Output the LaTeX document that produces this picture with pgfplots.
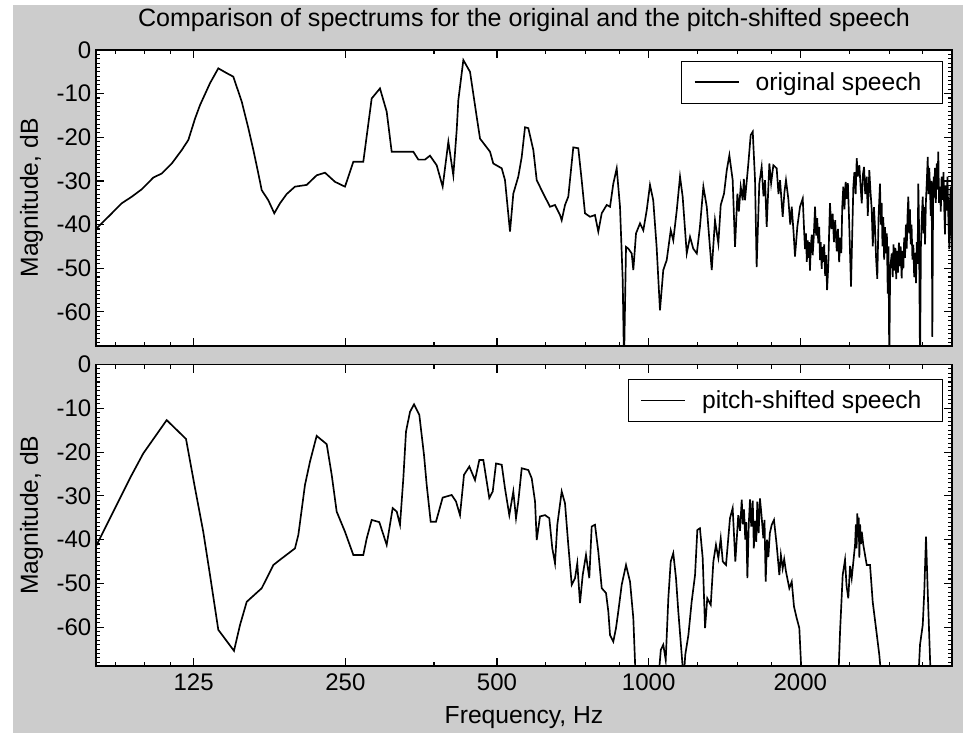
\documentclass[border=0pt]{standalone}
\usepackage{fontspec}
\setmainfont{Liberation Sans}
\usepackage{pgfplots}
\pgfplotsset{compat=1.18}
\definecolor{figgray}{HTML}{CCCCCC}
\newcommand\tickfont{\fontsize{18}{21}\selectfont}
\newcommand\labfont{\fontsize{18.5}{22}\selectfont}
\newcommand\titfont{\fontsize{18.8}{22}\selectfont}
\begin{document}
\begin{tikzpicture}
\fill[white] (0,0) rectangle (722.25pt,-549.75pt);
\fill[figgray] (9.75pt,-3.75pt) rectangle (722.25pt,-549.75pt);

\begin{axis}[
  xmode=log, xmin=80, xmax=4000,
  scale only axis, axis on top,
  axis background/.style={fill=white},
  axis line style={line width=1.2pt},
  every tick/.style={black, line width=0.8pt},
  major tick length=6pt, minor tick length=3pt,
  xtick={125,250,500,1000,2000},
  xticklabels={},
  minor xtick={87.5,100,112.5,375,625,750,875,1250,1500,1750,2500,3000,3500},
  ytick={-60,-50,-40,-30,-20,-10,0},
  yticklabels={-60,-50,-40,-30,-20,-10,0},
  minor ytick={-68,-67,...,-1},
  tick label style={font=\tickfont},
  ylabel={Magnitude, dB},
  ylabel style={font=\labfont, at={(axis description cs:-0.0678,0.5)}, anchor=base},
  legend image code/.code={\draw[#1] (0pt,0pt) -- (33pt,0pt);},
  legend cell align=left,
  at={(72pt,-37.5pt)}, anchor=north west,
  width=642pt, height=222pt,
  ymin=-67.8, ymax=0,
  title={Comparison of spectrums for the original and the pitch-shifted speech},
  title style={font=\titfont, at={(axis description cs:0.5,1.0507)}, anchor=base, yshift=0pt},
  legend style={at={(0.9895,0.9639)}, anchor=north east, draw=black, line width=0.8pt, fill=white,
    font=\labfont, inner xsep=9pt, inner ysep=8.25pt, nodes={inner sep=0pt},
    /tikz/every odd column/.append style={column sep=12pt}},
]
\addplot[black, line width=1.25pt] coordinates {
(80,-41.0) (85.3,-37.8) (90.0,-35.1) (94.2,-33.6) (98.6,-31.9) (104.0,-29.2) (108.0,-28.3)
(113.1,-26.0) (118.4,-22.9) (122.0,-20.6) (125.8,-15.7) (128.7,-12.6) (134.7,-7.6) (139.9,-4.2)
(145.4,-5.3) (149.8,-6.1) (155.7,-11.8) (160.5,-17.9) (164.2,-22.9) (168.0,-28.3) (170.6,-32.1)
(175.8,-34.4) (180.7,-37.4) (185.5,-35.1) (191.2,-33.0) (198.6,-31.3) (209.5,-30.9) (219.3,-28.7)
(227.8,-28.1) (238.5,-30.2) (249.6,-31.3) (259.3,-25.6) (271.4,-25.6) (282.0,-11.1) (292.9,-8.8)
(302.0,-14.1) (309.0,-23.3) (341.1,-23.3) (349.0,-25.1) (359.8,-25.1) (368.1,-24.2) (379.6,-26.4)
(390.1,-31.3) (400.3,-21.0) (409.5,-28.7) (415.9,-18.3) (419.0,-11.5) (428.7,-2.3) (442.0,-5.0)
(455.7,-15.3) (462.7,-20.3) (484.3,-23.3) (491.6,-26.0) (510.9,-27.1) (518.6,-29.8) (530.6,-41.6)
(538.7,-32.9) (551.1,-29.0) (559.8,-24.5) (568.3,-17.7) (576.9,-17.9) (590.3,-22.9) (599.5,-29.8)
(617.8,-32.9) (637.1,-35.9) (651.8,-35.5) (666.9,-37.8) (672.0,-39.0) (682.3,-35.5) (692.6,-33.6)
(708.6,-22.3) (725.0,-22.5) (736.4,-29.8) (747.6,-37.4) (764.9,-38.2) (782.5,-37.8) (794.4,-41.6)
(806.9,-37.4) (825.5,-35.5) (838.1,-35.9) (850.8,-30.6) (864.1,-27.1) (877.2,-35.9) (888.1,-52.7)
(893.4,-72) (901.6,-45.1) (911.2,-45.5) (925.4,-46.6) (932.2,-50.4) (943.8,-42.0) (961.2,-39.7)
(975.8,-41.3) (991.1,-36.7) (1006,-30.9) (1021,-34.4) (1037,-45.1) (1053,-59.6) (1069,-50.4)
(1086,-48.1) (1106,-41.3) (1119,-43.6) (1137,-36.7) (1154,-29.0) (1168,-33.6) (1190,-46.6)
(1208,-42.8) (1226,-45.5) (1246,-46.6) (1264,-40.5) (1284,-31.3) (1304,-35.9) (1334,-50.4)
(1354,-39.0) (1375,-44.3) (1390,-35.5) (1411,-32.9) (1429,-27.5) (1446,-24.1) (1468,-29.8)
(1484,-45.1) (1500,-32.9) (1510,-37.0) (1523,-31.3) (1537,-34.4) (1545,-29.5) (1553,-34.4) (1577,-26.0) (1594,-19.5)
(1609,-18.7) (1626,-29.8) (1638,-49.7) (1658,-30.6) (1676,-26.8) (1690,-33.5) (1702,-29.8) (1715,-40.5)
(1736,-26.0) (1750,-30.5) (1768,-26.4) (1795,-27.1) (1810,-33.0) (1823,-29.8) (1845,-38.2) (1860,-32.5) (1873,-29.8) (1893,-34.0)
(1910,-40.0) (1923,-35.9) (1940,-42.0) (1952,-47.3) (1973,-40.5) (1997,-35.9) (2022,-34.0)
(2035,-41.5) (2043,-45.6) (2052,-42.0) (2060,-48.5) (2068,-43.6) (2074,-47.6) (2082,-44.0)
(2090,-50.5) (2098,-45.0) (2107,-42.3) (2116,-47.0) (2125,-43.5) (2139,-35.9) (2150,-42.5)
(2160,-38.5) (2171,-44.3) (2180,-40.5) (2188,-48.1) (2195,-44.0) (2205,-50.1) (2213,-45.1)
(2221,-48.5) (2230,-44.5) (2240,-51.7) (2249,-47.0) (2260,-55.0) (2273,-49.0) (2281,-42.0)
(2290,-35.1) (2305,-41.0) (2318,-37.5) (2332,-44.0) (2345,-39.0) (2362,-46.1) (2375,-41.0)
(2388,-48.6) (2400,-43.0) (2412,-46.5) (2422,-36.0) (2434,-31.3) (2447,-36.5) (2460,-30.2)
(2472,-34.1) (2485,-30.5) (2498,-38.2) (2521,-54.2) (2548,-31.3) (2560,-28.0) (2575,-33.0)
(2588,-24.8) (2600,-29.0) (2619,-26.4) (2633,-31.0) (2648,-35.1) (2662,-28.5) (2676,-26.8)
(2690,-33.0) (2709,-29.0) (2722,-38.0) (2741,-27.5) (2756,-32.5) (2771,-36.4) (2785,-45.0)
(2800,-36.0) (2813,-40.5) (2828,-48.0) (2843,-52.4) (2860,-38.0) (2878,-30.6) (2890,-40.0)
(2900,-35.0) (2911,-45.0) (2922,-38.3) (2933,-48.0) (2945,-40.6) (2958,-46.6) (2970,-42.0)
(2982,-55.8) (2992,-45.0) (3003,-72) (3015,-50.0) (3037,-46.6) (3050,-52.0) (3062,-44.5)
(3075,-50.5) (3088,-45.3) (3100,-52.5) (3112,-46.0) (3125,-51.0) (3138,-44.1) (3150,-49.5)
(3163,-45.0) (3178,-52.3) (3190,-46.0) (3203,-50.0) (3215,-43.0) (3227,-47.6) (3240,-40.0)
(3252,-45.5) (3264,-38.0) (3276,-33.6) (3288,-42.0) (3300,-36.5) (3312,-44.5) (3325,-40.0)
(3338,-48.0) (3352,-44.6) (3365,-52.0) (3378,-46.5) (3393,-53.4) (3405,-44.0) (3417,-49.0)
(3429,-30.6) (3440,-40.0) (3456,-72) (3470,-45.0) (3485,-38.0) (3499,-33.6) (3512,-42.0)
(3524,-36.0) (3536,-44.5) (3550,-35.0) (3565,-30.0) (3580,-24.5) (3592,-33.0) (3605,-27.0)
(3617,-31.3) (3630,-38.0) (3645,-30.0) (3656,-65.7) (3668,-35.0) (3680,-29.0) (3689,-33.8)
(3700,-27.0) (3715,-35.0) (3730,-26.0) (3743,-32.0) (3757,-23.3) (3770,-35.0) (3787,-31.3)
(3800,-37.0) (3815,-29.0) (3834,-34.3) (3848,-28.0) (3860,-36.0) (3874,-42.2) (3888,-31.0)
(3904,-36.8) (3918,-29.0) (3935,-39.0) (3951,-45.6) (3963,-35.0) (3976,-31.3) (3988,-40.0)
(4000,-47.3)
};
\addlegendentry{original speech\rule{6.75pt}{0pt}}
\end{axis}

\begin{axis}[
  xmode=log, xmin=80, xmax=4000,
  scale only axis, axis on top,
  axis background/.style={fill=white},
  axis line style={line width=1.2pt},
  every tick/.style={black, line width=0.8pt},
  major tick length=6pt, minor tick length=3pt,
  xtick={125,250,500,1000,2000},
  xticklabels={125,250,500,1000,2000},
  minor xtick={87.5,100,112.5,375,625,750,875,1250,1500,1750,2500,3000,3500},
  ytick={-60,-50,-40,-30,-20,-10,0},
  yticklabels={-60,-50,-40,-30,-20,-10,0},
  minor ytick={-68,-67,...,-1},
  tick label style={font=\tickfont},
  xticklabel style={yshift=-2.5pt},
  ylabel={Magnitude, dB},
  ylabel style={font=\labfont, at={(axis description cs:-0.0678,0.5)}, anchor=base},
  legend image code/.code={\draw[#1] (0pt,0pt) -- (33pt,0pt);},
  legend cell align=left,
  at={(72pt,-273.375pt)}, anchor=north west,
  width=642pt, height=225.9pt,
  ymin=-68.8, ymax=0,
  xlabel={Frequency, Hz},
  xlabel style={font=\labfont, at={(axis description cs:0.5,-0.1902)}, anchor=base},
  legend style={at={(0.9895,0.9519)}, anchor=north east, draw=black, line width=0.8pt, fill=white,
    font=\labfont, inner xsep=9pt, inner ysep=8.25pt, nodes={inner sep=0pt},
    /tikz/every odd column/.append style={column sep=12pt}},
]
\addplot[black, line width=1.25pt] coordinates {
(80,-41.5) (87.3,-32.8) (93.4,-26.0) (99.3,-20.3) (110.5,-12.7) (120.7,-17.0) (125.8,-28.3)
(130.6,-38.2) (134.7,-48.1) (139.9,-60.6) (150.3,-65.4) (154.5,-59.5) (159.3,-54.2) (170.6,-51.1)
(179.9,-45.8) (185.5,-44.6) (198.6,-42.0) (201.7,-38.9) (207.9,-27.5) (212.7,-22.2) (219.3,-16.3)
(229.6,-18.2) (234.9,-25.2) (240.3,-33.6) (249.6,-38.2) (259.3,-43.5) (271.4,-43.5) (275.7,-39.7)
(282.0,-35.5) (292.0,-36.0) (302.0,-41.2) (310.4,-32.8) (316.2,-33.6) (321.0,-36.6) (325.9,-26.0)
(329.9,-15.3) (336.0,-10.8) (342.2,-9.1) (350.6,-11.5) (358.2,-20.7) (362.6,-27.5) (369.3,-35.9)
(378.4,-35.9) (390.1,-30.4) (406.5,-29.8) (414.6,-31.3) (422.2,-34.4) (430.0,-25.2) (440.6,-23.3)
(452.2,-26.4) (461.2,-21.8) (469.7,-21.8) (482.7,-30.5) (490.3,-29.0) (497.8,-22.6) (510.9,-22.9)
(518.6,-28.3) (528.9,-34.4) (538.7,-29.0) (545.4,-35.1) (551.1,-31.3) (559.8,-23.7) (576.9,-24.1)
(586.0,-26.0) (594.9,-31.3) (599.5,-40.1) (608.6,-34.7) (622.7,-34.4) (635.0,-35.1) (643.8,-42.0)
(651.8,-45.4) (658.7,-36.6) (672.0,-29.0) (682.3,-31.7) (692.6,-41.2) (703.5,-50.3) (714.2,-48.8)
(721.7,-45.4) (730.7,-54.5) (739.8,-48.1) (751.0,-43.5) (762.4,-48.8) (770.8,-37.0) (782.5,-36.6)
(794.4,-42.7) (806.9,-51.1) (822.9,-52.2) (831.6,-56.4) (838.1,-61.8) (850.8,-63.3) (861.3,-60.2)
(870.4,-56.4) (884.1,-50.3) (901.6,-45.8) (918.3,-49.6) (932.2,-57.9) (942.5,-72) (990,-85)
(1045,-72) (1057,-65.2) (1069,-64.0) (1081,-67.5) (1094,-53.4) (1106,-45.0) (1119,-43.1)
(1133,-48.8) (1145,-56.4) (1163,-66.3) (1173,-72) (1182,-66.3) (1199,-61.8) (1217,-54.2)
(1236,-48.1) (1249,-37.8) (1264,-37.4) (1280,-44.2) (1294,-60.2) (1307,-53.4) (1328,-54.9)
(1344,-45.0) (1360,-41.2) (1375,-44.2) (1390,-39.7) (1403,-45.0) (1424,-45.8) (1450,-35.1)
(1468,-32.8) (1486,-45.0) (1506,-34.4) (1518,-38.0) (1530,-30.9) (1538,-36.5) (1546,-33.1)
(1555,-40.0) (1562,-36.0) (1570,-48.8) (1580,-36.5) (1589,-30.8) (1598,-37.0) (1609,-31.1)
(1617,-42.0) (1626,-35.7) (1635,-40.5) (1643,-31.3) (1653,-38.5) (1663,-30.6) (1675,-34.5)
(1689,-39.7) (1698,-35.5) (1707,-49.6) (1718,-40.0) (1728,-44.0) (1740,-38.5) (1755,-36.6)
(1773,-35.5) (1795,-41.2) (1817,-48.1) (1830,-43.5) (1845,-46.6) (1858,-44.5) (1873,-47.3) (1902,-51.1)
(1923,-49.6) (1943,-55.3) (1967,-57.9) (1991,-60.2) (2013,-72) (2200,-85) (2379,-72)
(2398,-61.0) (2427,-48.1) (2453,-44.6) (2470,-50.5) (2490,-53.4) (2510,-46.0) (2529,-48.8) (2568,-41.2)
(2578,-36.5) (2586,-42.0) (2595,-34.0) (2603,-39.5) (2611,-35.0) (2619,-44.1) (2628,-36.5)
(2638,-41.0) (2648,-38.2) (2667,-41.2) (2709,-45.8) (2750,-45.8) (2784,-54.2) (2826,-60.2)
(2869,-66.3) (2898,-72) (3150,-85) (3429,-72) (3456,-64.0) (3499,-59.5) (3524,-51.9)
(3552,-39.3) (3580,-51.9) (3606,-62.5) (3630,-72) (4000,-85)
};
\addlegendentry{pitch-shifted speech\rule{6.75pt}{0pt}}
\end{axis}
\pgfresetboundingbox
\path[use as bounding box] (0,0) rectangle (722.25pt,-549.75pt);
\end{tikzpicture}
\end{document}
